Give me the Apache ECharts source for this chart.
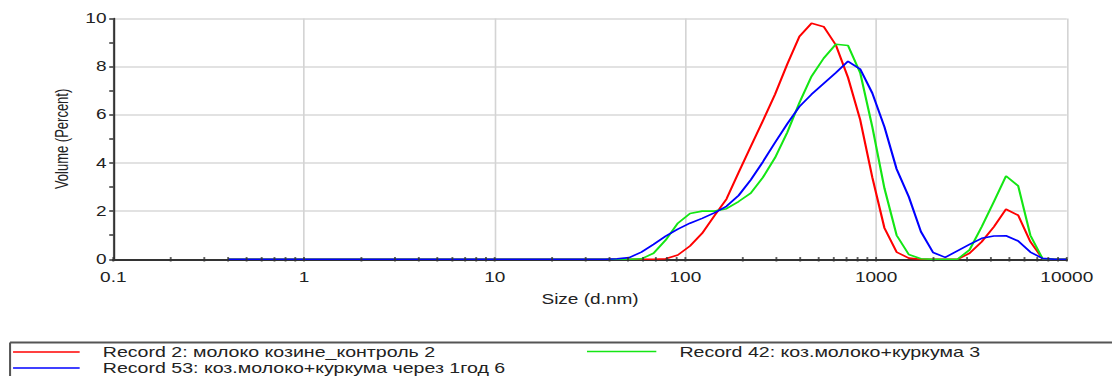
<!DOCTYPE html>
<html>
<head>
<meta charset="utf-8">
<script src="https://cdn.jsdelivr.net/npm/echarts@6/dist/echarts.min.js"></script>
<style>
  html, body { margin: 0; padding: 0; background: #fff; overflow: hidden; width: 1112px; height: 376px; }
  /* the plot is laid out at 818px and stretched to the full 1112px width */
  #chart { width: 818px; height: 376px; transform: scaleX(1.3594); transform-origin: 0 0; }
</style>
</head>
<body>
<div id="chart"></div>
<script>
// Size classes (d.nm)
const sizes = [
  0.4, 0.4632, 0.5365, 0.6213, 0.7195, 0.8332, 0.9649, 1.117, 1.294, 1.499,
  1.736, 2.010, 2.328, 2.696, 3.122, 3.615, 4.187, 4.849, 5.615, 6.503,
  7.531, 8.721, 10.10, 11.70, 13.54, 15.69, 18.17, 21.04, 24.36, 28.21,
  32.67, 37.84, 43.82, 50.75, 58.77, 68.06, 78.82, 91.28, 105.7, 122.4,
  141.8, 164.2, 190.1, 220.2, 255.0, 295.3, 342.0, 396.1, 458.7, 531.2,
  615.1, 712.4, 825.0, 955.4, 1106, 1281, 1484, 1718, 1990, 2305,
  2669, 3091, 3580, 4145, 4801, 5560, 6439, 7456, 8635, 10000
];

// Volume (%) per size class
const record2 = [
  0, 0, 0, 0, 0, 0, 0, 0, 0, 0,
  0, 0, 0, 0, 0, 0, 0, 0, 0, 0,
  0, 0, 0, 0, 0, 0, 0, 0, 0, 0,
  0, 0, 0, 0, 0, 0, 0.02, 0.18, 0.55, 1.08,
  1.8, 2.5, 3.6, 4.68, 5.75, 6.85, 8.1, 9.25, 9.8, 9.66,
  8.9, 7.55, 5.8, 3.4, 1.3, 0.3, 0.05, 0, 0, 0,
  0, 0.25, 0.73, 1.35, 2.08, 1.83, 0.73, 0.03, 0, 0
];
const record42 = [
  0, 0, 0, 0, 0, 0, 0, 0, 0, 0,
  0, 0, 0, 0, 0, 0, 0, 0, 0, 0,
  0, 0, 0, 0, 0, 0, 0, 0, 0, 0,
  0, 0, 0, 0, 0.02, 0.25, 0.8, 1.5, 1.9, 2.0,
  2.0, 2.1, 2.4, 2.75, 3.4, 4.22, 5.27, 6.5, 7.6, 8.35,
  8.93, 8.88, 7.75, 5.5, 2.95, 1.0, 0.2, 0.02, 0, 0,
  0, 0.39, 1.35, 2.39, 3.46, 3.05, 1.0, 0.03, 0, 0
];
const record53 = [
  0, 0, 0, 0, 0, 0, 0, 0, 0, 0,
  0, 0, 0, 0, 0, 0, 0, 0, 0, 0,
  0, 0, 0, 0, 0, 0, 0, 0, 0, 0,
  0, 0, 0.02, 0.07, 0.3, 0.62, 0.96, 1.25, 1.5, 1.7,
  1.93, 2.2, 2.65, 3.3, 4.05, 4.85, 5.62, 6.34, 6.85, 7.3,
  7.75, 8.22, 7.9, 6.9, 5.5, 3.75, 2.6, 1.15, 0.28, 0.08,
  0.35, 0.62, 0.87, 0.97, 0.98, 0.76, 0.3, 0.04, 0, 0
];

const seriesNames = [
  'Record 2: молоко козине_контроль 2',
  'Record 42: коз.молоко+куркума 3',
  'Record 53: коз.молоко+куркума через 1год 6'
];
const seriesColors = ['#ff0000', '#14e614', '#0000ff'];

const xTickLabels = ['0.1', '1', '10', '100', '1000', '10000'];
// log-axis tick marks (decades and 2..9 subdivisions)
const xTickMarks = [
  0.1, 0.2, 0.3, 0.4, 0.5, 0.6, 0.7, 0.8, 0.9,
  1, 2, 3, 4, 5, 6, 7, 8, 9,
  10, 20, 30, 40, 50, 60, 70, 80, 90,
  100, 200, 300, 400, 500, 600, 700, 800, 900,
  1000, 2000, 3000, 4000, 5000, 6000, 7000, 8000, 9000, 10000
];

const FONT = "'Liberation Sans', Arial, sans-serif";

const pairs = vals => sizes.map((s, i) => [s, vals[i]]);

const chart = echarts.init(document.getElementById('chart'), null, { renderer: 'svg' });

// one legend block per entry, placed in the framed strip below the plot
const legendEntry = (name, left, top, width) => ({
  data: [name],
  orient: 'horizontal',
  left: left,
  top: top,
  padding: 0,
  itemWidth: width,
  itemHeight: 1.5,
  icon: 'rect',
  selectedMode: false,
  textStyle: { fontFamily: FONT, fontSize: 14.4, color: '#222', padding: [0, 0, 0, 12], lineHeight: 15 }
});

chart.setOption({
  animation: false,
  backgroundColor: '#fff',
  grid: { left: 83.35, right: 33.25, top: 18.5, bottom: 116.7, containLabel: false },
  xAxis: {
    type: 'log',
    logBase: 10,
    min: 0.1,
    max: 10000,
    splitNumber: 5,
    name: 'Size (d.nm)',
    nameLocation: 'middle',
    nameGap: 33,
    nameTextStyle: { fontFamily: FONT, fontSize: 14, color: '#222' },
    axisLine: { show: true, onZero: false, lineStyle: { color: '#333', width: 2 } },
    axisTick: { show: false },
    axisLabel: {
      fontFamily: FONT, fontSize: 14, color: '#222', margin: 11,
      formatter: v => xTickLabels[Math.round(Math.log10(v)) + 1]
    },
    splitLine: { show: true, lineStyle: { color: '#d4d4d4', width: 1.2 } },
    minorTick: { show: false },
    minorSplitLine: { show: false }
  },
  yAxis: {
    type: 'value',
    min: 0,
    max: 10,
    interval: 2,
    name: 'Volume (Percent)',
    nameLocation: 'middle',
    nameGap: 30,
    nameTextStyle: { fontFamily: FONT, fontSize: 13, color: '#222' },
    axisLine: { show: true, lineStyle: { color: '#333', width: 1.5 } },
    axisTick: { show: true, length: 3, lineStyle: { color: '#333', width: 1.5 } },
    minorTick: { show: true, splitNumber: 2, length: 3, lineStyle: { color: '#333', width: 1.5 } },
    axisLabel: { fontFamily: FONT, fontSize: 14, color: '#222', margin: 5 },
    splitLine: { show: true, lineStyle: { color: '#d9d9d9', width: 1.5 } }
  },
  legend: [
    legendEntry(seriesNames[0], 9.6, 344.5, 49),
    legendEntry(seriesNames[2], 9.6, 360.5, 49),
    legendEntry(seriesNames[1], 431.8, 344, 51)
  ],
  graphic: [
    { type: 'line', shape: { x1: 7.4, y1: 342.5, x2: 818, y2: 342.5 }, style: { stroke: '#555', lineWidth: 2 }, silent: true },
    { type: 'line', shape: { x1: 7.4, y1: 342.5, x2: 7.4, y2: 376 }, style: { stroke: '#555', lineWidth: 1.5 }, silent: true }
  ],
  series: [
    { name: seriesNames[0], type: 'line', data: pairs(record2), showSymbol: false, symbol: 'none',
      lineStyle: { color: seriesColors[0], width: 1.6 }, itemStyle: { color: seriesColors[0] }, z: 2 },
    { name: seriesNames[1], type: 'line', data: pairs(record42), showSymbol: false, symbol: 'none',
      lineStyle: { color: seriesColors[1], width: 1.6 }, itemStyle: { color: seriesColors[1] }, z: 3 },
    { name: seriesNames[2], type: 'line', data: pairs(record53), showSymbol: false, symbol: 'none',
      lineStyle: { color: seriesColors[2], width: 1.6 }, itemStyle: { color: seriesColors[2] }, z: 4 },
    { name: 'ticks', type: 'scatter', data: xTickMarks.map(s => [s, 0]), symbol: 'rect',
      symbolSize: [1.4, 4.5], itemStyle: { color: '#333' }, silent: true, z: 6 }
  ]
});
</script>
</body>
</html>
